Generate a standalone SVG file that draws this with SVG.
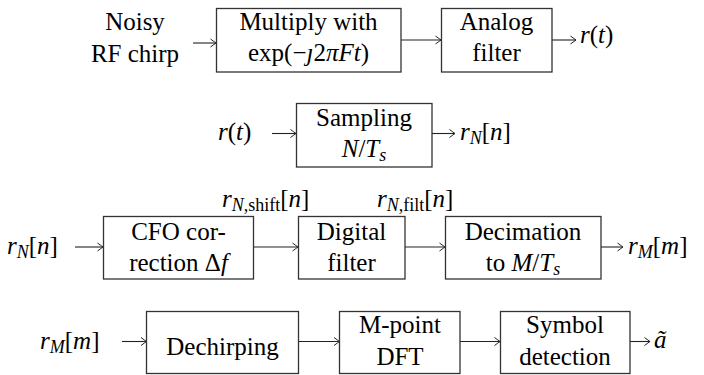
<svg xmlns="http://www.w3.org/2000/svg" width="704" height="375" viewBox="0 0 704 375">
<defs>
<marker id="ah" viewBox="-7 -5 8 10" refX="0" refY="0" markerWidth="8" markerHeight="10" orient="auto" markerUnits="userSpaceOnUse">
<path d="M-5.5,-4 Q-1.5,-1 0,0 Q-1.5,1 -5.5,4" fill="none" stroke="#222" stroke-width="1"/>
</marker>
</defs>
<g id="connectors" fill="none" stroke="#222" stroke-width="1.1" marker-end="url(#ah)">
<line x1="193" y1="43" x2="216" y2="43"/>
<line x1="401" y1="40" x2="441" y2="40"/>
<line x1="552" y1="40" x2="576" y2="40"/>
<line x1="272" y1="133.5" x2="296" y2="133.5"/>
<line x1="432" y1="133.5" x2="455" y2="133.5"/>
<line x1="75" y1="247" x2="103" y2="247"/>
<line x1="253" y1="247" x2="298" y2="247"/>
<line x1="405" y1="247" x2="445" y2="247"/>
<line x1="601" y1="247" x2="623" y2="247"/>
<line x1="122" y1="341.5" x2="146.5" y2="341.5"/>
<line x1="298.5" y1="341.5" x2="339.5" y2="341.5"/>
<line x1="460" y1="341.5" x2="500" y2="341.5"/>
<line x1="630" y1="341.5" x2="650" y2="341.5"/>
</g>
<g id="input-noisy">
<text x="135" y="30" text-anchor="middle" font-size="25" style="font-family:'Liberation Serif',serif !important">Noisy</text>
<text x="135" y="62" text-anchor="middle" font-size="25" style="font-family:'Liberation Serif',serif !important">RF chirp</text>
</g>
<g id="multiply">
<rect x="216.5" y="8.5" width="184.5" height="63.5" fill="#fff" stroke="#333" stroke-width="1.3"/>
<text x="308.5" y="30" text-anchor="middle" font-size="25" style="font-family:'Liberation Serif',serif !important">Multiply with</text>
<text x="308.5" y="61" text-anchor="middle" font-size="25" style="font-family:'Liberation Serif',serif !important">exp(&#x2212;<tspan font-style="italic">&#x237;</tspan>2<tspan font-style="italic">&#x3C0;Ft</tspan>)</text>
</g>
<g id="analog-filter">
<rect x="441.5" y="8.5" width="110.5" height="63.5" fill="#fff" stroke="#333" stroke-width="1.3"/>
<text x="496.5" y="30" text-anchor="middle" font-size="25" style="font-family:'Liberation Serif',serif !important">Analog</text>
<text x="496.5" y="61" text-anchor="middle" font-size="25" style="font-family:'Liberation Serif',serif !important">filter</text>
</g>
<g id="out-rt">
<text x="580" y="43" font-size="25" style="font-family:'Liberation Serif',serif !important"><tspan font-style="italic">r</tspan>(<tspan font-style="italic">t</tspan>)</text>
</g>
<g id="in-rt">
<text x="218" y="140" font-size="25" style="font-family:'Liberation Serif',serif !important"><tspan font-style="italic">r</tspan>(<tspan font-style="italic">t</tspan>)</text>
</g>
<g id="sampling">
<rect x="296.5" y="103.5" width="135.5" height="63.5" fill="#fff" stroke="#333" stroke-width="1.3"/>
<text x="364" y="126" text-anchor="middle" font-size="25" style="font-family:'Liberation Serif',serif !important">Sampling</text>
<text x="364" y="157" text-anchor="middle" font-size="25" style="font-family:'Liberation Serif',serif !important"><tspan font-style="italic">N</tspan>/<tspan font-style="italic">T</tspan><tspan font-style="italic" font-size="18" dy="4">s</tspan></text>
</g>
<g id="out-rNn">
<text x="460" y="140" font-size="25" style="font-family:'Liberation Serif',serif !important"><tspan font-style="italic">r</tspan><tspan font-style="italic" font-size="18" dy="4">N</tspan><tspan dy="-4">[</tspan><tspan font-style="italic">n</tspan>]</text>
</g>
<g id="in-rNn">
<text x="7" y="254" font-size="25" style="font-family:'Liberation Serif',serif !important"><tspan font-style="italic">r</tspan><tspan font-style="italic" font-size="18" dy="4">N</tspan><tspan dy="-4">[</tspan><tspan font-style="italic">n</tspan>]</text>
</g>
<g id="cfo">
<rect x="103.5" y="216.5" width="150" height="62.5" fill="#fff" stroke="#333" stroke-width="1.3"/>
<text x="178.5" y="240" text-anchor="middle" font-size="25" style="font-family:'Liberation Serif',serif !important">CFO cor-</text>
<text x="178.5" y="271" text-anchor="middle" font-size="25" style="font-family:'Liberation Serif',serif !important">rection &#x394;<tspan font-style="italic">f</tspan></text>
</g>
<g id="label-shift">
<text x="222" y="207" font-size="25" style="font-family:'Liberation Serif',serif !important"><tspan font-style="italic">r</tspan><tspan font-size="18" dy="4"><tspan font-style="italic">N</tspan>,shift</tspan><tspan dy="-4">[</tspan><tspan font-style="italic">n</tspan>]</text>
</g>
<g id="digital-filter">
<rect x="298.5" y="216.5" width="106.5" height="62.5" fill="#fff" stroke="#333" stroke-width="1.3"/>
<text x="351.5" y="240" text-anchor="middle" font-size="25" style="font-family:'Liberation Serif',serif !important">Digital</text>
<text x="351.5" y="271" text-anchor="middle" font-size="25" style="font-family:'Liberation Serif',serif !important">filter</text>
</g>
<g id="label-filt">
<text x="377" y="207" font-size="25" style="font-family:'Liberation Serif',serif !important"><tspan font-style="italic">r</tspan><tspan font-size="18" dy="4"><tspan font-style="italic">N</tspan>,filt</tspan><tspan dy="-4">[</tspan><tspan font-style="italic">n</tspan>]</text>
</g>
<g id="decimation">
<rect x="445.5" y="216.5" width="155.5" height="62.5" fill="#fff" stroke="#333" stroke-width="1.3"/>
<text x="523" y="240" text-anchor="middle" font-size="25" style="font-family:'Liberation Serif',serif !important">Decimation</text>
<text x="523" y="271" text-anchor="middle" font-size="25" style="font-family:'Liberation Serif',serif !important">to <tspan font-style="italic">M</tspan>/<tspan font-style="italic">T</tspan><tspan font-style="italic" font-size="18" dy="4">s</tspan></text>
</g>
<g id="out-rMm">
<text x="628" y="254" font-size="25" style="font-family:'Liberation Serif',serif !important"><tspan font-style="italic">r</tspan><tspan font-style="italic" font-size="18" dy="4">M</tspan><tspan dy="-4">[</tspan><tspan font-style="italic">m</tspan>]</text>
</g>
<g id="in-rMm">
<text x="40" y="349" font-size="25" style="font-family:'Liberation Serif',serif !important"><tspan font-style="italic">r</tspan><tspan font-style="italic" font-size="18" dy="4">M</tspan><tspan dy="-4">[</tspan><tspan font-style="italic">m</tspan>]</text>
</g>
<g id="dechirping">
<rect x="146.5" y="311.5" width="152" height="62" fill="#fff" stroke="#333" stroke-width="1.3"/>
<text x="222.5" y="355" text-anchor="middle" font-size="25" style="font-family:'Liberation Serif',serif !important">Dechirping</text>
</g>
<g id="dft">
<rect x="339.5" y="311.5" width="120.5" height="62" fill="#fff" stroke="#333" stroke-width="1.3"/>
<text x="400" y="333" text-anchor="middle" font-size="25" style="font-family:'Liberation Serif',serif !important">M-point</text>
<text x="400" y="365" text-anchor="middle" font-size="25" style="font-family:'Liberation Serif',serif !important">DFT</text>
</g>
<g id="symbol-detection">
<rect x="500.5" y="311.5" width="129.5" height="62" fill="#fff" stroke="#333" stroke-width="1.3"/>
<text x="565" y="333" text-anchor="middle" font-size="25" style="font-family:'Liberation Serif',serif !important">Symbol</text>
<text x="565" y="365" text-anchor="middle" font-size="25" style="font-family:'Liberation Serif',serif !important">detection</text>
</g>
<g id="out-a">
<text x="654" y="348" font-size="25" style="font-family:'Liberation Serif',serif !important"><tspan font-style="italic">&#xE3;</tspan></text>
</g>
</svg>
